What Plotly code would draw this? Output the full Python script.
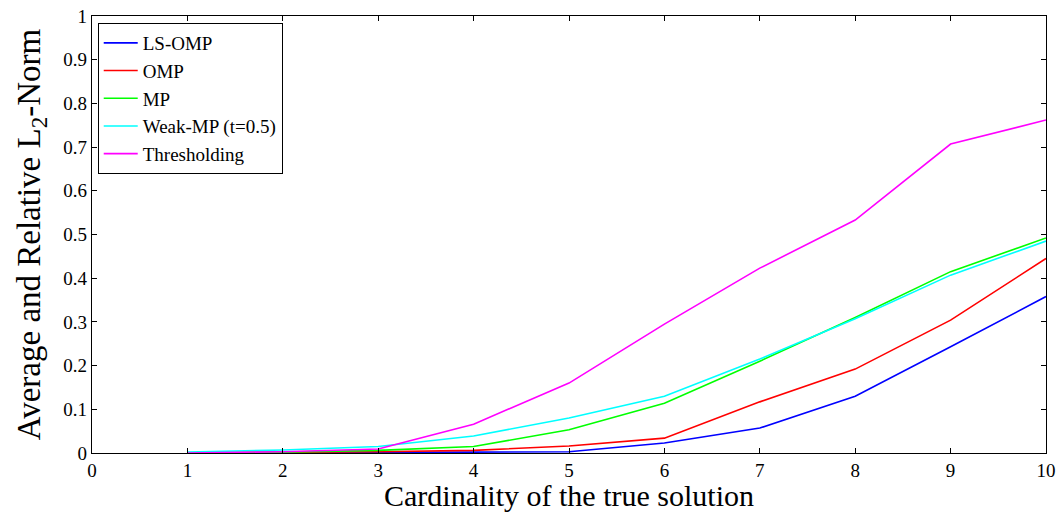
import plotly.graph_objects as go

cardinality = [1, 2, 3, 4, 5, 6, 7, 8, 9, 10]
ls_omp = [0.0, 0.0, 0.001, 0.002, 0.003, 0.023, 0.057, 0.130, 0.243, 0.358]
omp = [0.0, 0.001, 0.003, 0.006, 0.016, 0.034, 0.117, 0.192, 0.304, 0.445]
mp = [0.0, 0.002, 0.006, 0.015, 0.053, 0.114, 0.210, 0.310, 0.415, 0.492]
weak_mp = [0.002, 0.007, 0.015, 0.039, 0.080, 0.130, 0.215, 0.307, 0.407, 0.485]
thresholding = [0.0, 0.003, 0.009, 0.066, 0.160, 0.295, 0.423, 0.533, 0.707, 0.762]

series = [
    ("LS-OMP", ls_omp, "#0000ff"),
    ("OMP", omp, "#ff0000"),
    ("MP", mp, "#00ff00"),
    ("Weak-MP (t=0.5)", weak_mp, "#00ffff"),
    ("Thresholding", thresholding, "#ff00ff"),
]

fig = go.Figure()
for name, vals, col in series:
    fig.add_trace(go.Scatter(x=cardinality, y=vals, mode="lines", name=name,
                             line=dict(color=col, width=1.6)))

font_family = "Liberation Serif, Times New Roman, serif"
axis_common = dict(
    showgrid=False, zeroline=False, showline=True, linecolor="black", linewidth=1.2,
    mirror="allticks", ticks="inside", ticklen=5, tickcolor="black",
    tickfont=dict(family=font_family, size=19, color="black"),
    automargin=False,
)
fig.update_layout(
    width=1058, height=512,
    margin=dict(l=92, r=12, t=16, b=59),
    paper_bgcolor="white", plot_bgcolor="white",
    font=dict(family=font_family, color="black"),
    xaxis=dict(range=[0, 10], dtick=1, ticklabelstandoff=0,
               title=dict(text="Cardinality of the true solution",
                          font=dict(family=font_family, size=30), standoff=4),
               **axis_common),
    yaxis=dict(range=[0, 1], dtick=0.1,
               title=dict(text="Average and Relative L<sub>2</sub>-Norm",
                          font=dict(family=font_family, size=33), standoff=12),
               **axis_common),
    legend=dict(x=0.006, y=0.984, xanchor="left", yanchor="top",
                bgcolor="white", bordercolor="black", borderwidth=1,
                font=dict(family=font_family, size=19), tracegroupgap=0,
                itemwidth=34),
    showlegend=True,
)

fig.write_html("out.html")
